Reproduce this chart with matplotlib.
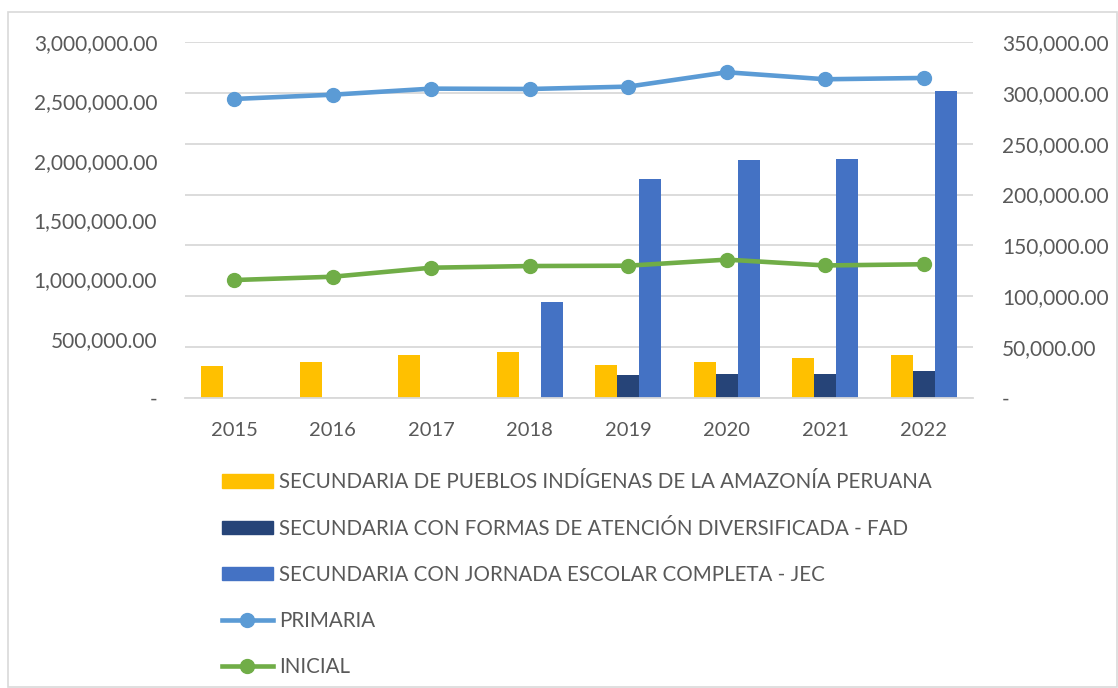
import numpy as np
import matplotlib
matplotlib.use("Agg")
import matplotlib.pyplot as plt
from matplotlib.patches import Rectangle, Patch
from matplotlib.lines import Line2D
from matplotlib.ticker import FuncFormatter, MultipleLocator

plt.rcParams['font.family'] = ['Lato', 'DejaVu Sans']

years = ['2015', '2016', '2017', '2018', '2019', '2020', '2021', '2022']

# bars (right axis)
pueblos = [31500, 35700, 42600, 45500, 32700, 35400, 39000, 42000]
fad = [0, 0, 0, 0, 22600, 23900, 23900, 26200]
jec = [0, 0, 0, 94400, 215000, 234300, 234600, 301800]

# lines (left axis)
primaria = [2520000, 2556000, 2607000, 2604000, 2624000, 2745000, 2686000, 2697000]
inicial = [994000, 1022000, 1098000, 1112000, 1115000, 1166000, 1117000, 1127000]

lbl_pueblos = 'SECUNDARIA DE PUEBLOS INDÍGENAS DE LA AMAZONÍA PERUANA'
lbl_fad = 'SECUNDARIA CON FORMAS DE ATENCIÓN DIVERSIFICADA - FAD'
lbl_jec = 'SECUNDARIA CON JORNADA ESCOLAR COMPLETA - JEC'

c_yel = '#FFC000'
c_fad = '#264478'
c_jec = '#4472C4'
c_pri = '#5B9BD5'
c_ini = '#70AD47'
txt = '#595959'


def fmt(v, pos):
    if abs(v) < 1e-6:
        return '-'
    return '{:,.2f}'.format(v)


fig = plt.figure(figsize=(11.18, 6.88), dpi=100)
fig.patches.append(Rectangle((8/1118, 0.001), 1 - 8/1118 - 0.001, 1 - 12/688 - 0.001,
                             transform=fig.transFigure, fill=False,
                             edgecolor='#D9D9D9', linewidth=1.2))

ax = fig.add_axes([185/1118, 1 - 398/688, 788/1118, 356/688])
x = np.arange(len(years))
w = 0.223
ax.bar(x - w, pueblos, w, color=c_yel)
ax.bar(x, fad, w, color=c_fad)
ax.bar(x + w, jec, w, color=c_jec)
ax.set_ylim(0, 350000)
ax.set_xlim(-0.5, len(years) - 0.5)
ax.yaxis.set_major_locator(MultipleLocator(50000))
ax.yaxis.set_major_formatter(FuncFormatter(fmt))
ax.grid(axis='y', color='#D9D9D9', linewidth=1.3)
ax.set_axisbelow(True)
ax.set_xticks(x)
ax.set_xticklabels(years)

ax2 = ax.twinx()
ax2.plot(x, primaria, color=c_pri, linewidth=3.3, marker='o', markersize=10)
ax2.plot(x, inicial, color=c_ini, linewidth=3.3, marker='o', markersize=10)
ax2.set_ylim(0, 3000000)
ax2.yaxis.set_major_locator(MultipleLocator(500000))
ax2.yaxis.set_major_formatter(FuncFormatter(fmt))
ax.yaxis.tick_right()
ax2.yaxis.tick_left()

for a in (ax, ax2):
    for s in a.spines.values():
        s.set_visible(False)
    a.tick_params(length=0, labelsize=15, labelcolor=txt)
ax.tick_params(axis='x', labelsize=14.5, pad=17)
ax.tick_params(axis='y', pad=21)
ax2.tick_params(axis='y', pad=20)
ax.spines['bottom'].set_visible(True)
ax.spines['bottom'].set_color('#D9D9D9')
ax.spines['bottom'].set_linewidth(1.3)

handles = [Patch(color=c_yel), Patch(color=c_fad), Patch(color=c_jec),
           Line2D([], [], color=c_pri, linewidth=3.3, marker='o', markersize=10),
           Line2D([], [], color=c_ini, linewidth=3.3, marker='o', markersize=10)]
labels = [lbl_pueblos, lbl_fad, lbl_jec, 'PRIMARIA', 'INICIAL']
leg = fig.legend(handles, labels, loc='upper left', bbox_to_anchor=(203/1118, 1 - 454/688),
                 frameon=False, fontsize=14.8, labelcolor=txt, handlelength=2.5,
                 handleheight=0.65, handletextpad=0.3, labelspacing=1.27)

fig.savefig('out.png', dpi=100)
